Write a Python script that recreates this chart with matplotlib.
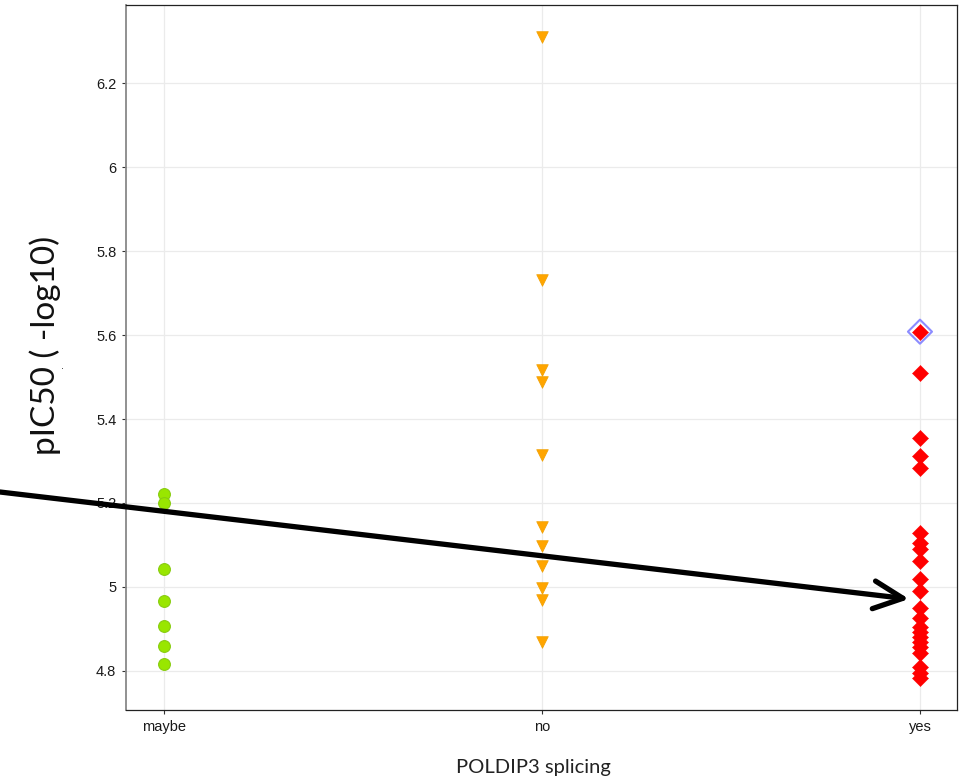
import matplotlib
matplotlib.use("Agg")
import matplotlib.pyplot as plt
from matplotlib.patches import FancyArrowPatch
from matplotlib.patches import ArrowStyle

categories = ["maybe", "no", "yes"]
maybe_vals = [5.221, 5.201, 5.043, 4.967, 4.906, 4.860, 4.816]
no_vals = [6.31, 5.731, 5.517, 5.489, 5.314, 5.144, 5.098, 5.050, 4.998, 4.969, 4.870]
yes_vals = [5.608, 5.51, 5.354, 5.312, 5.283, 5.128, 5.105, 5.090, 5.062, 5.018,
            4.990, 4.951, 4.925, 4.905, 4.893, 4.881, 4.870, 4.858, 4.842,
            4.810, 4.794, 4.783]
highlight_val = 5.608
yticks = [4.8, 5.0, 5.2, 5.4, 5.6, 5.8, 6.0, 6.2]
ytick_labels = ["4.8", "5", "5.2", "5.4", "5.6", "5.8", "6", "6.2"]

W, H = 963, 783
fig = plt.figure(figsize=(W / 100, H / 100), dpi=100)
ax = fig.add_axes([126 / W, 1 - 710 / H, (957 - 126) / W, (710 - 5) / H])

ax.set_xlim(0.899, 3.098)
ax.set_ylim(4.707, 6.386)

ax.grid(True, color="#ebebeb", lw=0.9, zorder=0)
ax.set_axisbelow(True)

ax.scatter([1] * len(maybe_vals), maybe_vals, s=72, marker="o", color="#99e600",
           edgecolors="#88cc10", linewidths=0.8, zorder=3)
ax.scatter([2] * len(no_vals), no_vals, s=70, marker="v", color="#ffa500",
           edgecolors="#f0a000", linewidths=0.5, zorder=3)
ax.scatter([3] * 1, [highlight_val], s=150, marker="D", color="none",
           edgecolors="#8c8cff", linewidths=1.5, zorder=2.9)
ax.scatter([3] * len(yes_vals), yes_vals, s=68, marker="D", color="#ff0000",
           edgecolors="#ff0000", linewidths=0.3, zorder=3)

ax.set_xticks([1, 2, 3])
ax.set_xticklabels(categories)
ax.set_yticks(yticks)
ax.set_yticklabels(ytick_labels)
for lab in ax.get_xticklabels() + ax.get_yticklabels():
    lab.set_fontfamily("Liberation Sans")
    lab.set_fontsize(10.5)
    lab.set_color("#1a1a1a")
ax.tick_params(axis="both", length=3, width=0.8, color="#333333", pad=4)

for side in ["top", "right", "bottom"]:
    ax.spines[side].set_color("#222222")
    ax.spines[side].set_linewidth(0.9)
ax.spines["left"].set_color("#888888")
ax.spines["left"].set_linewidth(1.3)

fig.text(45 / W, 1 - 345 / H, "pIC50 ( -log10)", rotation=90, ha="center",
         va="center", fontsize=24, family="Lato", color="#111111")
fig.text(533 / W, 1 - 768 / H, "POLDIP3 splicing", ha="center", va="center",
         fontsize=14.5, family="Lato", color="#222222")
fig.text(63 / W, 1 - 366 / H, ".", ha="center", va="center", fontsize=7,
         color="#333333")

arrow = FancyArrowPatch((0 / W, 1 - 492 / H), (909 / W, 1 - 599 / H),
                        transform=fig.transFigure,
                        arrowstyle=ArrowStyle("->", head_length=21, head_width=10),
                        mutation_scale=1, lw=3.8, color="black",
                        shrinkA=0, shrinkB=0, capstyle="round", joinstyle="round")
fig.add_artist(arrow)

fig.savefig("out.png", dpi=100)
